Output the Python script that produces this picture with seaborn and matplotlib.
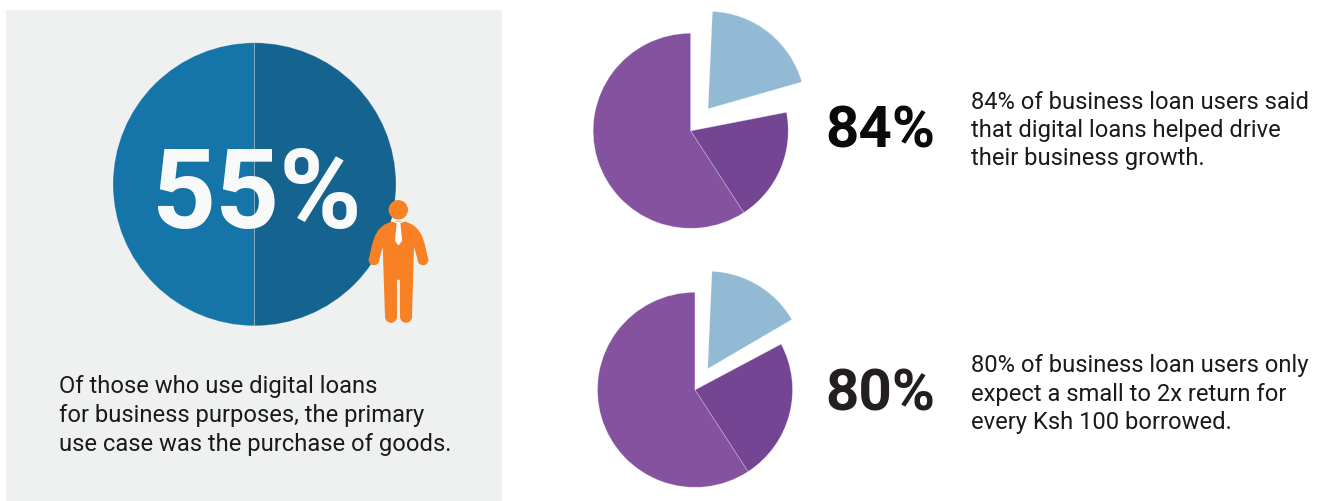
import matplotlib
matplotlib.use("Agg")
import matplotlib.pyplot as plt
import seaborn as sns
from matplotlib.patches import Rectangle, Circle, Polygon

# Pie shares, degrees of the full circle; blanks are the white notches beside the pulled-out slice
headline_shares = [50, 50]
growth_shares = [213, 68, 5, 71.4, 2.6]
return_shares = [213, 85, 2.3, 57.2, 2.5]
growth_explode = [0, 0, 0, 28, 0]
return_explode = [0, 0, 0, 24.6, 0]

headline = "55%"
caption_lines = ["Of those who use digital loans",
                 "for business purposes, the primary",
                 "use case was the purchase of goods."]
stat_labels = ["84%", "80%"]
growth_lines = ["84% of business loan users said",
                "that digital loans helped drive",
                "their business growth."]
return_lines = ["80% of business loan users only",
                "expect a small to 2x return for",
                "every Ksh 100 borrowed."]

W, H = 1324, 502
sns.set_theme(style="white")
plt.rcParams["font.family"] = ["Roboto", "DejaVu Sans"]

blue_pair = sns.color_palette(["#1575a9", "#15638f"])
slice_colors = ["#85529f", "#734592", "none", "#92bad5", "none"]
seam = (1, 1, 1, 0.28)
orange = "#f98125"
ink = "#1a1a1a"

fig = plt.figure(figsize=(W / 100, H / 100), dpi=100, facecolor="white")
ax = fig.add_axes([0, 0, 1, 1])

def py(y):
    # vertical position measured from the top edge
    return H - y - 0.8

ax.add_patch(Rectangle((6, 0), 496, H - 11, facecolor="#eff1f1", edgecolor="none", zorder=0))

ax.pie(headline_shares, colors=blue_pair, startangle=90, counterclock=True,
       center=(254.5, py(184.5)), radius=141.5, frame=True,
       wedgeprops=dict(linewidth=0.6, edgecolor=seam))
ax.pie(growth_shares, colors=slice_colors, explode=growth_explode, startangle=90,
       center=(690.7, py(131)), radius=97.5, frame=True,
       wedgeprops=dict(linewidth=0.6, edgecolor=seam))
ax.pie(return_shares, colors=slice_colors, explode=return_explode, startangle=90,
       center=(695, py(390)), radius=97.5, frame=True,
       wedgeprops=dict(linewidth=0.6, edgecolor=seam))

# Standing figure in a suit and tie
def blob(x, y, r):
    ax.add_patch(Circle((x, py(y)), r, facecolor=orange, edgecolor="none", zorder=3))

blob(398.3, 210, 9.7)
for foot_x in (391, 406):
    blob(foot_x, 317, 6)
for hand_x in (374, 423):
    blob(hand_x, 260, 5.4)
body = [(392, 221.5), (384, 225), (378.5, 230), (375, 236), (372, 245), (369, 259),
        (378.7, 262), (382.7, 247), (385, 317), (397, 317), (397, 280), (400, 280),
        (400, 317), (412, 317), (414, 247), (418.3, 262), (428, 259), (425, 245),
        (422, 236), (418.3, 230), (413, 225), (405, 221.5)]
ax.add_patch(Polygon([(x, py(y)) for x, y in body], closed=True, facecolor=orange,
                     edgecolor="none", zorder=3))
tie = [(396.7, 222.7), (400.3, 222.7), (402.2, 241), (398.4, 245.7), (395, 241)]
ax.add_patch(Polygon([(x, py(y)) for x, y in tie], closed=True, facecolor="white",
                     edgecolor="none", zorder=4))
ax.plot([391.5, 396.7, 400.3, 405.2], [py(220.8), py(222.7), py(222.7), py(220.8)],
        color="white", linewidth=0.9, zorder=4)

ax.text(256.5, py(227.5), headline, color="#f8fafa", fontsize=80.5, fontweight="bold",
        ha="center", va="baseline", zorder=5)

for y, line in zip([392, 421.5, 450.5], caption_lines):
    ax.text(59, py(y), line, color=ink, fontsize=17.1, ha="left", va="baseline")

ax.text(880.5, py(146.5), stat_labels[0], color="#0a0a0a", fontsize=42, fontweight="bold",
        ha="center", va="baseline")
ax.text(880.5, py(410), stat_labels[1], color="#231f20", fontsize=42, fontweight="bold",
        ha="center", va="baseline")

for y, line in zip([108, 136, 164], growth_lines):
    ax.text(971, py(y), line, color=ink, fontsize=17.1, ha="left", va="baseline")
for y, line in zip([371.5, 400, 428], return_lines):
    ax.text(971, py(y), line, color=ink, fontsize=17.1, ha="left", va="baseline")

ax.set_xlim(0, W)
ax.set_ylim(0, H)
ax.set_aspect("auto")
ax.axis("off")

fig.savefig("out.png", dpi=100, facecolor="white")
